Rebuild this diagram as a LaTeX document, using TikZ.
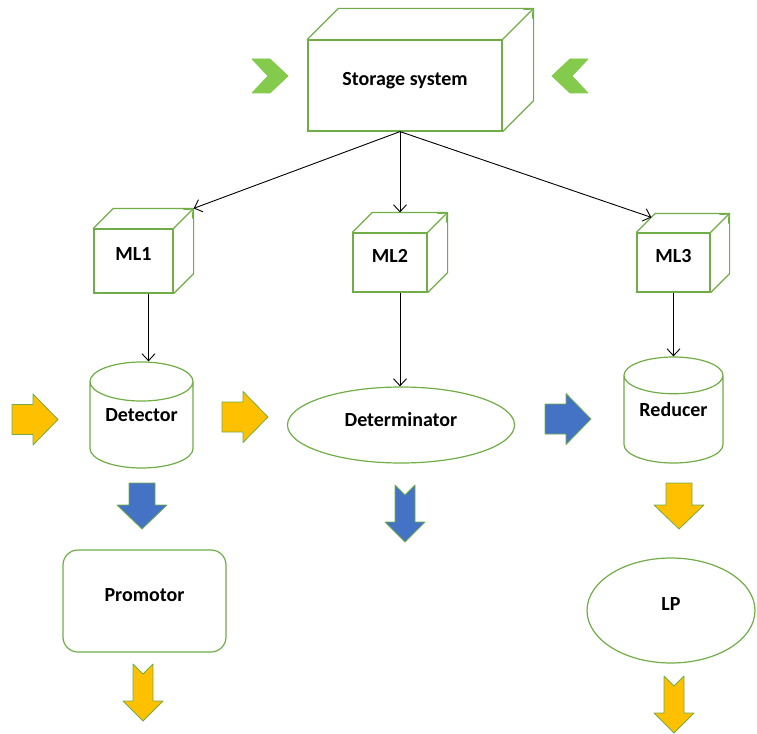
\documentclass[tikz,border=0pt]{standalone}
\usepackage{fontspec}
\setmainfont{Carlito}
\usepackage{tikz}
\usetikzlibrary{arrows.meta,shapes.geometric}

\definecolor{boxgreen}{RGB}{112,173,71}
\definecolor{chevgreen}{RGB}{132,202,76}
\definecolor{flowblue}{RGB}{68,114,196}
\definecolor{flowyellow}{RGB}{255,192,0}

\tikzset{
  every node/.style={font=\fontsize{20}{24}\selectfont\bfseries, inner sep=0pt},
  shapeline/.style={draw=boxgreen, line width=1.2pt},
  cube/.style={shapeline, rectangle, text depth=14pt},
  drum/.style={shapeline, cylinder, shape border rotate=90, aspect=0.54,
               anchor=shape center, text depth=20pt},
  oval/.style={shapeline, ellipse, text depth=12pt},
  roundbox/.style={shapeline, rounded corners=15pt, text depth=12pt},
  blockline/.style={draw=boxgreen, line width=0.8pt, line join=round},
  rightblock/.pic={\path[pic actions] (0,-15) -- (21,-15) -- (21,-25.5)
      -- (46,0) -- (21,25.5) -- (21,15) -- (0,15) -- cycle;},
  downblock/.pic={\path[pic actions] (-13,0) -- (13,0) -- (13,22) -- (25,22)
      -- (0,46) -- (-25,22) -- (-13,22) -- cycle;},
  notchblock/.pic={\path[pic actions] (-10,0) -- (0,10) -- (10,0) -- (10,37)
      -- (20,37) -- (0,57) -- (-20,37) -- (-10,37) -- cycle;},
  chevron/.pic={\path[pic actions] (0,-17) -- (18,-17) -- (36,0) -- (18,17)
      -- (0,17) -- (16,0) -- cycle;},
}

% top and side faces of a box node
\newcommand{\cubefaces}[2]{%
  \draw[shapeline, line join=round] (#1.north west) -- ++(#2,-#2)
    -- ([shift={(#2,-#2)}]#1.north east) -- ([shift={(#2,-#2)}]#1.south east)
    -- (#1.south east) (#1.north east) -- ++(#2,-#2);}

\begin{document}
\begin{tikzpicture}[x=1pt,y=-1pt,->,>={Straight Barb[length=7pt,width=13pt]},
                    line width=0.9pt]
  \useasboundingbox (0,0) rectangle (757,733);

  \node[cube, minimum width=194, minimum height=91] (storage) at (405,85.5)
       {Storage system};
  \node[cube, minimum width=79, minimum height=64]  (ml1) at (133.5,261) {ML1};
  \node[cube, minimum width=74, minimum height=59]  (ml2) at (390,262.5) {ML2};
  \node[cube, minimum width=73, minimum height=59]  (ml3) at (673.5,262.5) {ML3};
  \cubefaces{storage}{31}
  \cubefaces{ml1}{20}
  \cubefaces{ml2}{20}
  \cubefaces{ml3}{19}

  \node[drum, minimum width=103, minimum height=106] (detector) at (141.5,415)
       {Detector};
  \node[oval, minimum width=227, minimum height=76] (determ) at (401,425)
       {Determinator};
  \node[drum, minimum width=99, minimum height=106] (reducer) at (673.5,410)
       {Reducer};
  \node[roundbox, minimum width=163, minimum height=102] (promotor) at (144.5,601)
       {Promotor};
  \node[oval, minimum width=168, minimum height=105] (lp) at (671,610.5) {LP};

  \path ([xshift=-5]storage.south) edge ([shift={(20,-20)}]ml1.north east)
                                   edge ([shift={(10,-20)}]ml2.north)
                                   edge ([shift={(15,-15)}]ml3.north west)
        ([xshift=15]ml1.south)     edge ([xshift=15]ml1.south |- detector.top)
        ([xshift=10]ml2.south)     edge ([xshift=10]ml2.south |- determ.north)
        (ml3.south)                edge (reducer.top);

  \pic[blockline, fill=chevgreen, draw=chevgreen] at (252,76) {chevron};
  \pic[blockline, fill=chevgreen, draw=chevgreen, xscale=-1] at (588,76) {chevron};

  \pic[blockline, fill=flowyellow] at (12,419.5) {rightblock};
  \pic[blockline, fill=flowyellow] at (222,417)  {rightblock};
  \pic[blockline, fill=flowblue]   at (545,419)  {rightblock};

  \pic[blockline, fill=flowblue]   at (142,483)  {downblock};
  \pic[blockline, fill=flowyellow] at (679,483)  {downblock};
  \pic[blockline, fill=flowblue]   at (405,485)  {notchblock};
  \pic[blockline, fill=flowyellow] at (143,664)  {notchblock};
  \pic[blockline, fill=flowyellow] at (674,676)  {notchblock};
\end{tikzpicture}
\end{document}
